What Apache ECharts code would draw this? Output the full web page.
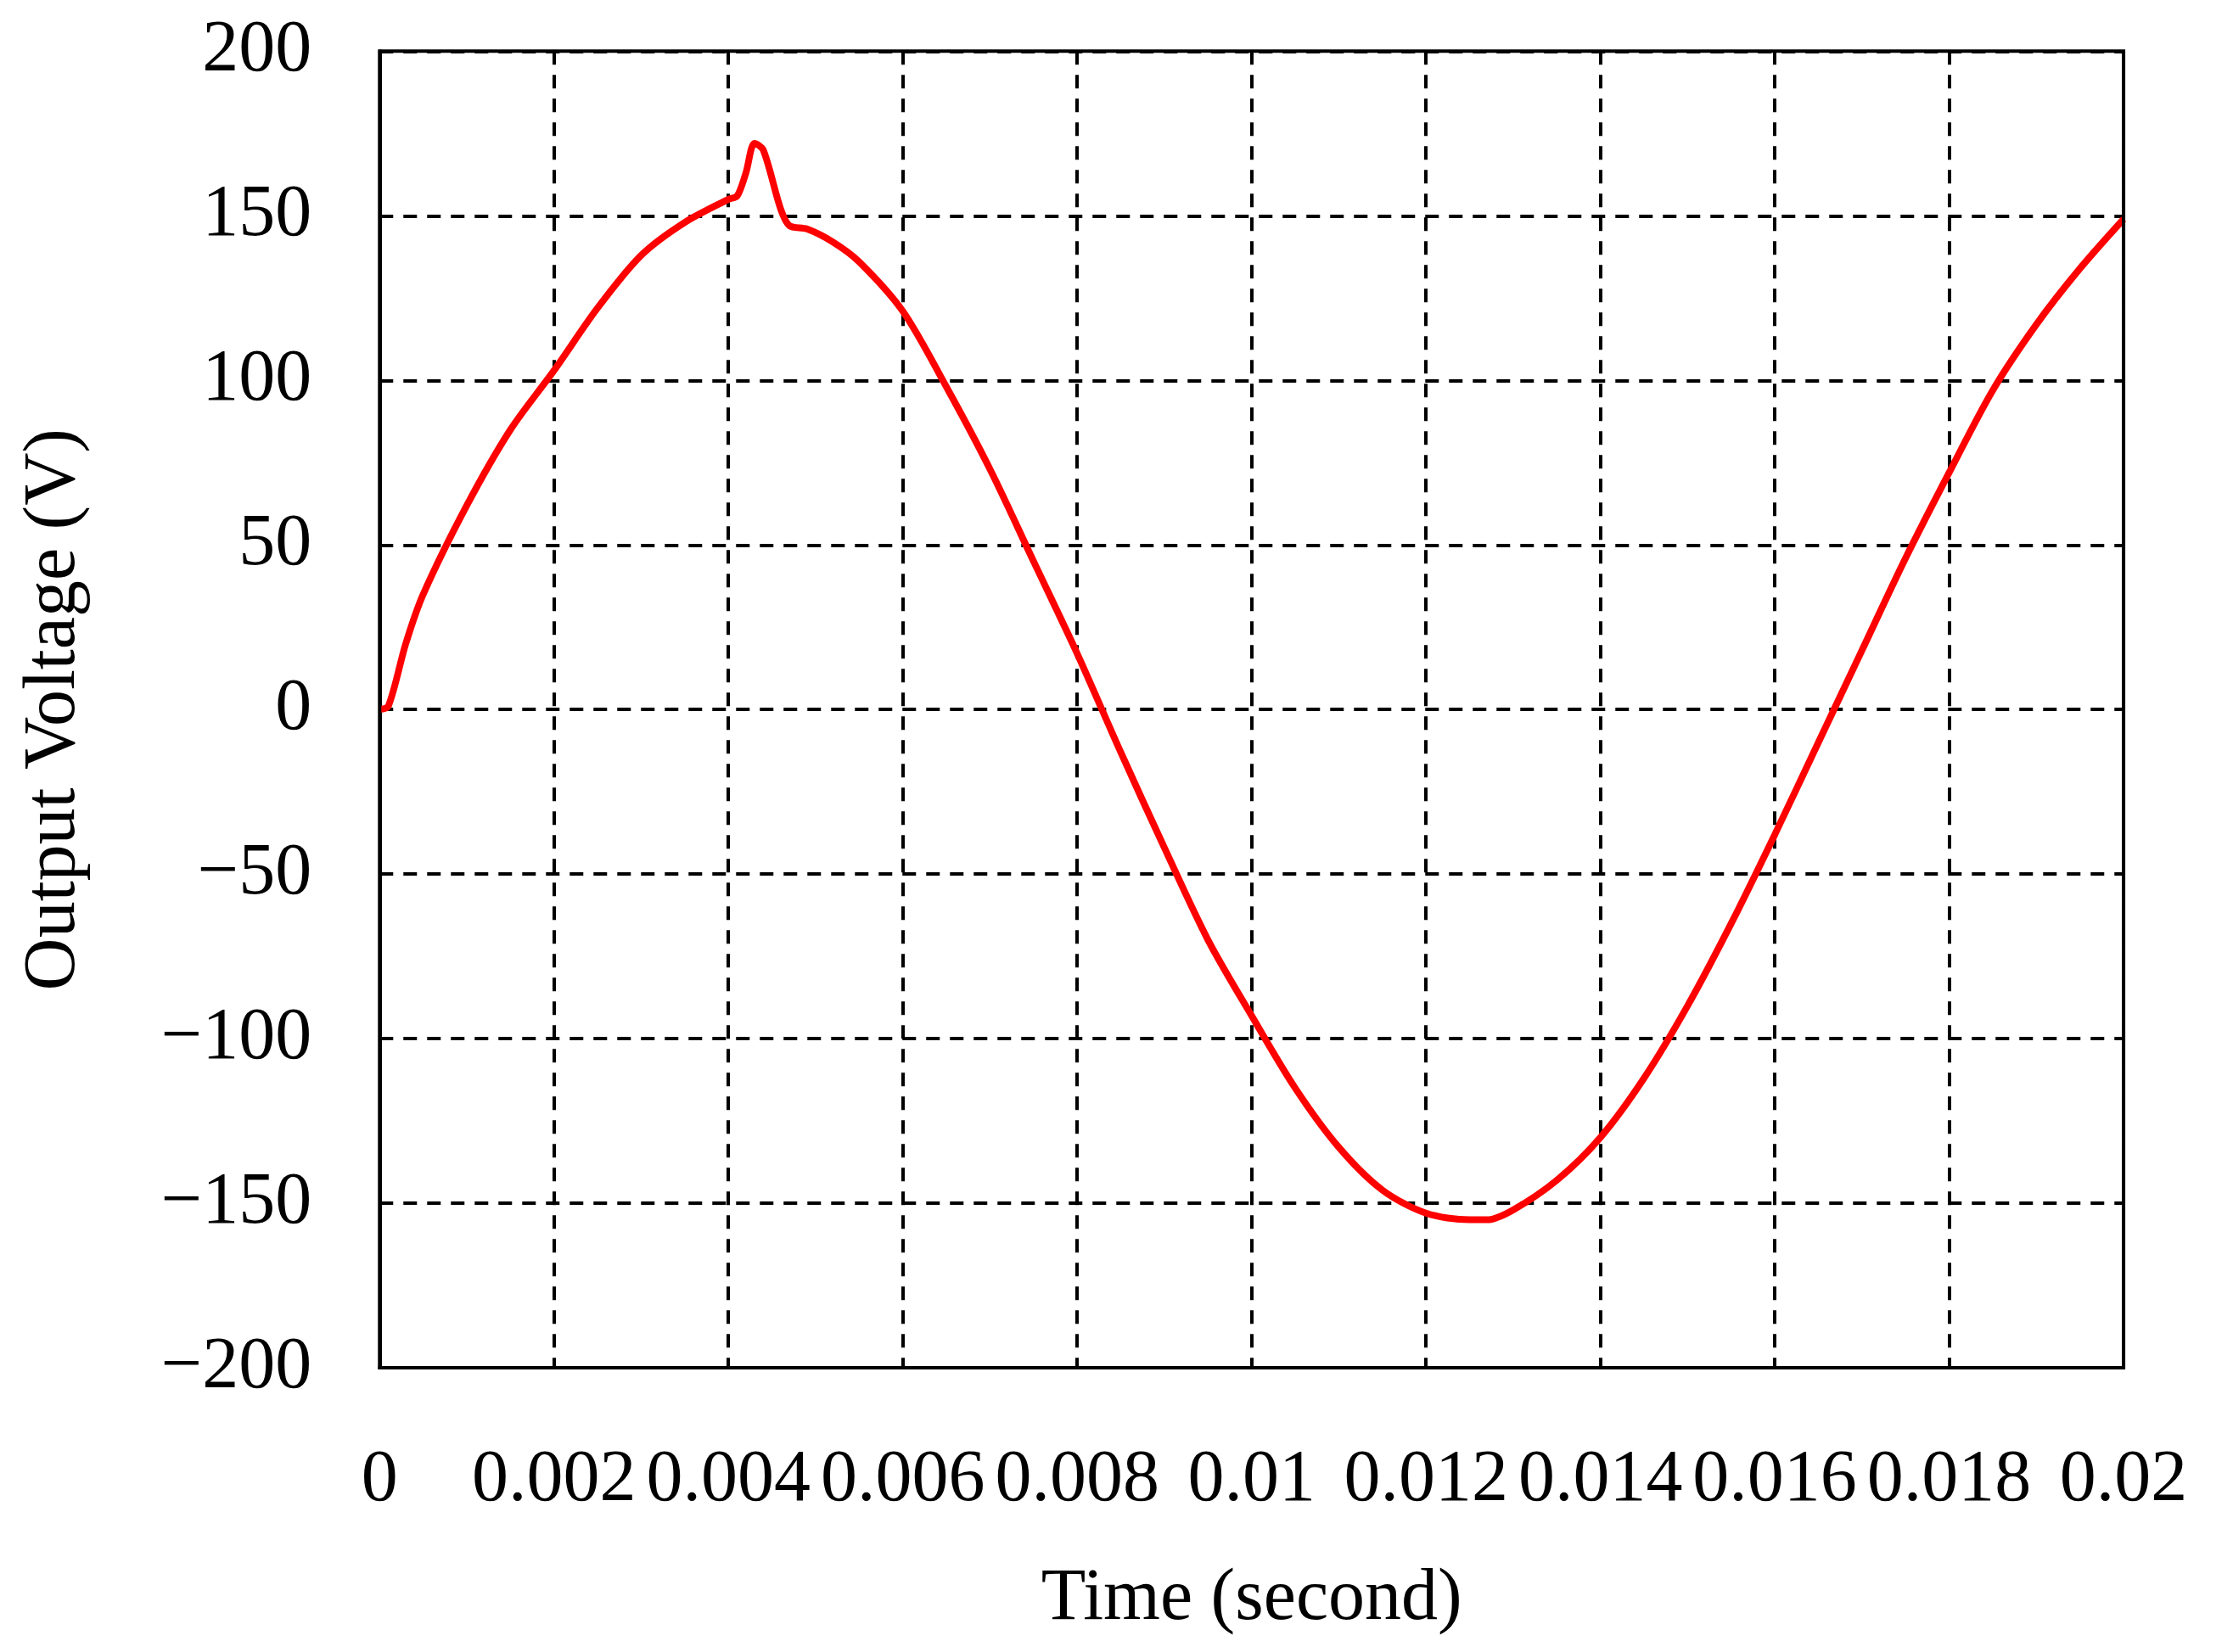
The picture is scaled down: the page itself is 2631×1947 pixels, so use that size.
<!DOCTYPE html>
<html>
<head>
<meta charset="UTF-8">
<script src="https://cdn.jsdelivr.net/npm/echarts@6/dist/echarts.min.js"></script>
<style>
    html, body { margin: 0; padding: 0; background: #fff; }
    #main { width: 2631px; height: 1947px; }
</style>
</head>
<body>
<div id="main"></div>
<script>
    // time (s) and output voltage (V)
    var times = [0, 0.0001, 0.0003, 0.0005, 0.001, 0.0015, 0.002, 0.0025, 0.003, 0.0035, 0.004, 0.0041,
        0.0042, 0.0043, 0.0044, 0.0046, 0.0047, 0.0049, 0.0052, 0.0055, 0.006, 0.0065, 0.007, 0.0075,
        0.008, 0.0085, 0.009, 0.0095, 0.01, 0.0105, 0.011, 0.0115, 0.012, 0.0125, 0.0127, 0.013, 0.0135,
        0.014, 0.0145, 0.015, 0.0155, 0.016, 0.0165, 0.017, 0.0175, 0.018, 0.0185, 0.019, 0.0195, 0.02];
    var volts = [0, 1, 20, 35, 62, 85, 103, 122, 138, 148, 155, 156,
        163, 172, 170, 152, 147, 146, 142, 136, 121, 98, 73, 45,
        17, -13, -42, -70, -93, -115, -133, -146, -153, -155, -155, -152, -143,
        -130, -112, -90, -65, -38, -10, 18, 46, 72, 97, 117, 134, 149];

    var pts = [];
    for (var i = 0; i < times.length; i++) {
        pts.push([times[i], volts[i]]);
    }

    var font = 'Liberation Serif';
    var myChart = echarts.init(document.getElementById('main'));
    var option = {
        animation: false,
        backgroundColor: '#fff',
        grid: { left: '17%', right: '4.9%', top: '3.1%', bottom: '17.2%' },
        xAxis: {
            type: 'value', min: 0, max: 0.02, interval: 0.002,
            name: 'Time (second)', nameLocation: 'middle', nameGap: 230,
            nameTextStyle: { fontFamily: font, fontSize: 86, color: '#000' },
            axisLine: { show: true, onZero: false, lineStyle: { color: '#000', width: 4 } },
            axisTick: { show: false },
            axisLabel: {
                fontFamily: font, fontSize: 86, color: '#000', margin: 90,
                formatter: function (v) { return String(parseFloat(v.toFixed(4))); }
            },
            splitLine: { show: true, lineStyle: { color: '#000', type: [16, 12], width: 4 } }
        },
        yAxis: {
            type: 'value', min: -200, max: 200, interval: 50,
            name: 'Output Voltage (V)', nameLocation: 'middle', nameGap: 340,
            nameTextStyle: { fontFamily: font, fontSize: 86, color: '#000' },
            axisLine: { show: true, lineStyle: { color: '#000', width: 4 } },
            axisTick: { show: false },
            axisLabel: {
                fontFamily: font, fontSize: 86, color: '#000', margin: 80,
                formatter: function (v) { return v < 0 ? '\u2212' + (-v) : String(v); }
            },
            splitLine: { show: true, lineStyle: { color: '#000', type: [16, 12], width: 4 } }
        },
        series: [{
            type: 'line',
            data: pts,
            smooth: 0.3,
            showSymbol: false,
            lineStyle: { color: '#ff0000', width: 8 }
        }]
    };
    myChart.setOption(option);
    // frame on top and right
    var g = myChart.getModel().getComponent('grid').coordinateSystem.getRect();
    myChart.setOption({
        graphic: [{
            type: 'rect', z: 10,
            shape: { x: g.x, y: g.y, width: g.width, height: g.height },
            style: { fill: 'none', stroke: '#000', lineWidth: 4 }
        }]
    });
</script>
</body>
</html>
